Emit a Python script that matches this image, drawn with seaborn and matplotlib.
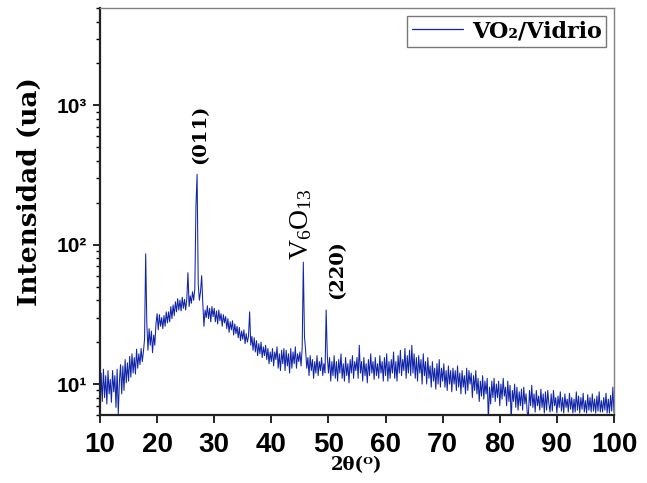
import numpy as np
import pandas as pd
import matplotlib
matplotlib.use("Agg")
import matplotlib.pyplot as plt
import seaborn as sns
from matplotlib.ticker import FixedLocator, LogLocator, NullFormatter

# ---- data ----
two_theta_start, two_theta_stop, two_theta_step = 10.0, 100.0, 0.2
intensity = [
    6.1, 12.0, 7.5, 12.8, 8.0,      # 10
    11.5, 7.2, 12.5, 8.5, 10.8,     # 11
    7.4, 12.5, 8.8, 11.5, 6.8,      # 12
    12.8, 6.1, 10.5, 13.8, 8.5,     # 13
    13.5, 9.0, 15.0, 10.2, 14.2,    # 14
    10.5, 15.8, 11.2, 16.5, 12.0,   # 15
    15.5, 11.8, 17.8, 13.0, 16.5,   # 16
    13.8, 18.0, 14.5, 17.0, 21.0,   # 17
    86.0, 27.0, 17.5, 25.0, 19.0,   # 18
    24.0, 16.8, 22.5, 19.0, 27.0,   # 19
    32.0, 24.5, 31.5, 26.0, 30.0,   # 20
    25.0, 31.0, 26.0, 33.0, 27.5,   # 21
    33.0, 28.0, 36.0, 29.5, 37.0,   # 22
    31.0, 39.0, 33.0, 41.0, 34.0,   # 23
    40.0, 33.5, 42.0, 35.0, 40.5,   # 24
    34.0, 41.0, 63.0, 36.0, 43.0,   # 25
    38.0, 46.0, 40.0, 48.0, 190.0,  # 26
    320.0, 52.0, 40.0, 46.0, 60.0,  # 27
    38.0, 26.0, 34.0, 30.0, 36.5,   # 28
    29.5, 35.0, 28.0, 36.0, 30.5,   # 29
    35.0, 28.0, 33.5, 27.0, 34.0,   # 30
    28.5, 32.0, 26.0, 31.5, 27.5,   # 31
    30.5, 25.0, 29.5, 23.5, 28.0,   # 32
    24.5, 28.5, 22.5, 27.0, 23.0,   # 33
    26.0, 21.5, 25.5, 20.5, 24.0,   # 34
    21.0, 24.5, 19.5, 23.0, 20.0,   # 35
    22.0, 33.0, 19.0, 22.0, 17.5,   # 36
    21.5, 17.0, 20.5, 16.0, 19.5,   # 37
    16.5, 20.0, 15.5, 18.5, 16.0,   # 38
    19.0, 15.0, 18.0, 14.0, 17.0,   # 39
    14.5, 18.0, 13.5, 17.0, 15.0,   # 40
    18.5, 13.0, 16.5, 12.5, 17.5,   # 41
    14.0, 18.0, 12.5, 17.5, 13.5,   # 42
    16.5, 12.0, 18.0, 13.0, 17.0,   # 43
    14.0, 18.5, 13.0, 16.5, 14.5,   # 44
    17.0, 13.5, 18.0, 75.0, 22.0,   # 45
    17.5, 13.0, 15.5, 11.5, 16.0,   # 46
    12.5, 15.0, 11.0, 14.5, 12.0,   # 47
    16.0, 11.5, 14.5, 12.5, 15.5,   # 48
    11.5, 14.0, 12.0, 34.0, 16.0,   # 49
    12.0, 15.5, 10.5, 14.5, 11.5,   # 50
    16.0, 11.0, 14.5, 10.5, 15.0,   # 51
    12.0, 16.5, 11.0, 14.0, 10.5,   # 52
    15.5, 11.5, 14.0, 10.2, 15.0,   # 53
    12.0, 16.0, 11.0, 14.5, 12.5,   # 54
    15.5, 11.0, 19.0, 12.0, 14.5,   # 55
    10.5, 15.5, 11.5, 14.0, 10.2,   # 56
    15.0, 11.5, 16.5, 12.0, 14.5,   # 57
    10.8, 15.5, 11.5, 14.0, 11.0,   # 58
    16.0, 12.0, 14.5, 10.5, 15.5,   # 59
    11.5, 16.5, 10.5, 14.5, 11.0,   # 60
    15.0, 12.0, 17.0, 11.0, 14.5,   # 61
    10.5, 16.0, 12.0, 17.5, 11.5,   # 62
    15.0, 12.5, 18.0, 11.0, 16.0,   # 63
    12.0, 17.5, 11.5, 19.0, 12.0,   # 64
    16.5, 11.0, 15.5, 10.5, 16.0,   # 65
    12.0, 15.0, 10.0, 16.5, 11.5,   # 66
    14.5, 10.0, 15.5, 11.0, 13.5,   # 67
    9.5, 14.5, 10.5, 13.0, 9.2,     # 68
    14.0, 10.0, 15.0, 9.5, 13.0,    # 69
    10.5, 14.0, 9.5, 12.5, 9.0,     # 70
    13.5, 10.0, 12.5, 8.8, 13.0,    # 71
    10.0, 12.5, 9.0, 13.5, 9.5,     # 72
    12.0, 8.5, 12.5, 9.5, 11.5,     # 73
    8.5, 13.0, 9.0, 12.5, 10.0,     # 74
    12.0, 8.0, 11.5, 9.0, 12.5,     # 75
    8.5, 11.0, 7.5, 10.5, 8.2,      # 76
    11.5, 7.8, 10.5, 8.5, 11.0,     # 77
    5.5, 9.5, 7.2, 10.5, 8.0,       # 78
    11.0, 7.5, 10.0, 8.0, 10.5,     # 79
    7.0, 10.0, 7.8, 11.0, 8.2,      # 80
    9.5, 7.0, 10.5, 7.5, 9.8,       # 81
    5.5, 9.0, 7.5, 10.0, 6.8,       # 82
    9.5, 6.5, 8.8, 7.0, 9.2,        # 83
    6.5, 9.5, 7.2, 8.5, 6.3,        # 84
    5.8, 9.0, 7.0, 9.8, 6.8,        # 85
    8.5, 6.3, 9.0, 7.0, 8.2,        # 86
    6.5, 9.2, 6.8, 8.5, 6.2,        # 87
    8.8, 6.5, 9.0, 7.2, 6.3,        # 88
    8.5, 6.4, 9.0, 7.0, 8.0,        # 89
    6.2, 8.2, 6.8, 8.8, 6.4,        # 90
    8.0, 6.2, 8.5, 6.8, 7.8,        # 91
    6.3, 8.6, 6.6, 8.0, 6.2,        # 92
    7.8, 6.3, 8.8, 6.5, 8.2,        # 93
    6.2, 8.0, 6.6, 8.6, 6.3,        # 94
    7.6, 6.2, 8.4, 6.5, 8.0,        # 95
    6.3, 8.5, 6.4, 7.8, 6.2,        # 96
    8.2, 6.4, 8.8, 6.3, 7.6,        # 97
    6.3, 8.0, 6.5, 8.6, 6.2,        # 98
    7.8, 6.2, 8.3, 6.4, 9.5,        # 99
    6.2,                            # 100
]
two_theta = np.round(np.arange(two_theta_start, two_theta_stop + 1e-9, two_theta_step), 2)

series_label = "VO\u2082/Vidrio"
x_ticks = [10, 20, 30, 40, 50, 60, 70, 80, 90, 100]
y_ticks = [10, 100, 1000]
y_tick_labels = ["10\u00b9", "10\u00b2", "10\u00b3"]
annotations = [("(011)", 27.6, 380), ("V$_6$O$_{13}$", 45.3, 78), ("(220)", 51.6, 41)]

df = pd.DataFrame({"two_theta": two_theta, "intensity": intensity})

# ---- style ----
sns.set_theme(style="ticks")
plt.rcParams["mathtext.fontset"] = "custom"
plt.rcParams["mathtext.rm"] = "Liberation Serif"
plt.rcParams["mathtext.it"] = "Liberation Serif:italic"
for k in ["text.color", "axes.labelcolor", "xtick.color", "ytick.color"]:
    plt.rcParams[k] = "black"

fig = plt.figure(figsize=(6.47, 4.83), dpi=100)
ax = fig.add_axes([100 / 647, 1 - 415 / 483, 514 / 647, 407 / 483])

line_color = "#1024a8"
sns.lineplot(data=df, x="two_theta", y="intensity", ax=ax, color=line_color,
             linewidth=0.75, estimator=None, label=series_label)

ax.set_yscale("log")
ax.set_xlim(10, 100)
ax.set_ylim(6, 5000)

ax.xaxis.set_major_locator(FixedLocator(x_ticks))
ax.set_xticklabels([str(t) for t in x_ticks], fontfamily="Liberation Sans",
                   fontweight="bold", fontsize=20)
ax.yaxis.set_major_locator(FixedLocator(y_ticks))
ax.set_yticklabels(y_tick_labels, fontfamily="Liberation Sans",
                   fontweight="bold", fontsize=15)
ax.yaxis.set_minor_locator(LogLocator(base=10, subs=np.arange(2, 10)))
ax.yaxis.set_minor_formatter(NullFormatter())

ax.tick_params(axis="x", which="major", direction="out", length=6, width=1.2,
               color="black", labelcolor="black", pad=6)
ax.tick_params(axis="y", which="major", direction="out", length=5, width=1.2,
               color="black", labelcolor="black", pad=4)
ax.tick_params(axis="y", which="minor", direction="out", length=3, width=1.0,
               color="black")
ax.tick_params(axis="x", which="minor", bottom=False)

for s in ["left", "bottom"]:
    ax.spines[s].set_color("#222222")
    ax.spines[s].set_linewidth(1.6)
for s in ["top", "right"]:
    ax.spines[s].set_visible(True)
    ax.spines[s].set_color("#808080")
    ax.spines[s].set_linewidth(1.0)

ax.set_ylabel("Intensidad (ua)", fontfamily="DejaVu Serif", fontweight="bold",
              fontsize=19, color="black")
ax.yaxis.set_label_coords(-0.113, 0.548)
ax.set_xlabel("2\u03b8(\u1d3c)", fontfamily=["DejaVu Serif", "DejaVu Sans"],
              fontweight="bold", fontsize=13, labelpad=-1, color="black")

for txt, xv, yv in annotations:
    if "$" in txt:
        ax.text(xv, yv, txt, rotation=90, ha="center", va="bottom",
                fontfamily="Liberation Serif", fontsize=20, color="black")
    else:
        ax.text(xv, yv, txt, rotation=90, ha="center", va="bottom",
                fontfamily="DejaVu Serif", fontweight="bold", fontsize=14,
                color="black")

leg = ax.legend(loc="upper right", frameon=True, fancybox=False,
                prop={"family": "DejaVu Serif", "weight": "bold", "size": 16},
                handlelength=2.3, borderpad=0.2, borderaxespad=0.35,
                handletextpad=0.4)
leg.get_frame().set_edgecolor("#555555")
leg.get_frame().set_linewidth(1.0)
for t in leg.get_texts():
    t.set_color("black")
for h in leg.get_lines():
    h.set_linewidth(0.9)

fig.savefig("out.png", dpi=100)
